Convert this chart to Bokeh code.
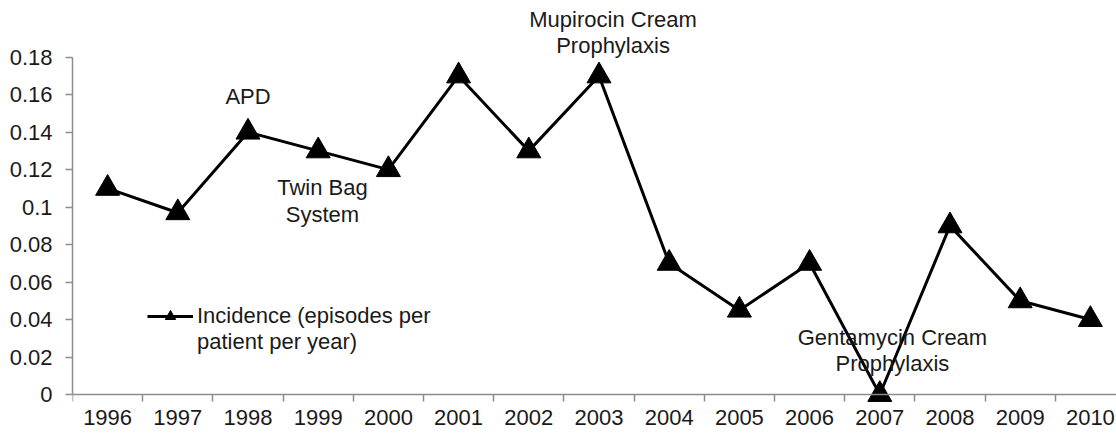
from bokeh.plotting import figure
from bokeh.models import FixedTicker, Range1d, ColumnDataSource, Legend, LegendItem
from bokeh.core.properties import value
from bokeh.embed import file_html
from bokeh.resources import INLINE

# ---- data ----
years = [1996, 1997, 1998, 1999, 2000, 2001, 2002, 2003, 2004, 2005, 2006, 2007, 2008, 2009, 2010]
year_labels = ["1996", "1997", "1998", "1999", "2000", "2001", "2002", "2003", "2004", "2005",
               "2006", "2007", "2008", "2009", "2010"]
incidence = [0.11, 0.097, 0.14, 0.13, 0.12, 0.17, 0.13, 0.17, 0.07, 0.045, 0.07, 0.0, 0.09, 0.05, 0.04]

y_ticks = [0.0, 0.02, 0.04, 0.06, 0.08, 0.1, 0.12, 0.14, 0.16, 0.18]
y_tick_labels = ["0", "0.02", "0.04", "0.06", "0.08", "0.1", "0.12", "0.14", "0.16", "0.18"]

series_label_lines = ["Incidence (episodes per", "patient per year)"]

notes = ["APD", "Twin Bag\nSystem", "Mupirocin Cream\nProphylaxis", "Gentamycin Cream\nProphylaxis"]
note_x = [1998.0, 1999.06, 2003.2, 2007.18]
note_y = [0.159, 0.1033, 0.1932, 0.0235]

FONT = "Liberation Sans"
TEXT_COLOR = "#1a1a1a"
AXIS_COLOR = "#8c8c8c"

p = figure(width=1116, height=434, output_backend="svg", toolbar_location=None,
           x_range=Range1d(1995.5, 2010.372), y_range=Range1d(-0.021346, 0.21026),
           min_border_left=72, min_border_right=0, min_border_top=0, min_border_bottom=0)
p.outline_line_color = None
p.xgrid.grid_line_color = None
p.ygrid.grid_line_color = None
p.background_fill_color = "white"
p.border_fill_color = "white"

# x axis drawn at y = 0
xa = p.xaxis[0]
xa.fixed_location = 0
xa.ticker = FixedTicker(ticks=years,
                        minor_ticks=[y - 0.5 for y in years] + [years[-1] + 0.5])
xa.major_label_overrides = {y: l for y, l in zip(years, year_labels)}
xa.major_tick_line_color = None
xa.major_tick_in = 0
xa.major_tick_out = 7
xa.minor_tick_in = 0
xa.minor_tick_out = 7
xa.minor_tick_line_color = AXIS_COLOR
xa.minor_tick_line_width = 1.5
xa.axis_line_color = AXIS_COLOR
xa.axis_line_width = 1.5
xa.major_label_standoff = 8
xa.major_label_text_font = FONT
xa.major_label_text_font_size = "22px"
xa.major_label_text_color = TEXT_COLOR

ya = p.yaxis[0]
ya.ticker = FixedTicker(ticks=y_ticks, minor_ticks=[])
ya.major_label_overrides = {t: l for t, l in zip(y_ticks, y_tick_labels)}
ya.bounds = (0, 0.18)
ya.major_tick_in = 0
ya.major_tick_out = 7
ya.major_tick_line_color = AXIS_COLOR
ya.major_tick_line_width = 1.5
ya.minor_tick_line_color = None
ya.axis_line_color = AXIS_COLOR
ya.axis_line_width = 1.5
ya.major_label_standoff = 13
ya.major_label_text_font = FONT
ya.major_label_text_font_size = "22px"
ya.major_label_text_color = TEXT_COLOR

src = ColumnDataSource(dict(x=years, y=incidence))
line_r = p.line("x", "y", source=src, line_color="black", line_width=3)
mark_r = p.scatter("x", "y", source=src, marker="triangle", size=24,
                   fill_color="black", line_color="black")

note_src = ColumnDataSource(dict(x=note_x, y=note_y, text=notes))
p.text("x", "y", text="text", source=note_src, text_font=value(FONT),
       text_font_size="22px", text_align="center", text_baseline="middle",
       text_line_height=1.05, text_color=TEXT_COLOR)

# invisible stand-in so the legend's second text line has no glyph
blank_r = p.line(x=[], y=[], line_alpha=0)

legend = Legend(items=[LegendItem(label=value(series_label_lines[0]), renderers=[line_r, mark_r]),
                       LegendItem(label=value(series_label_lines[1]), renderers=[blank_r])],
                location=(75, 79), padding=0, margin=0, spacing=0,
                border_line_color=None, background_fill_alpha=0,
                glyph_width=46, glyph_height=26, label_height=26, label_standoff=4,
                label_text_font=FONT, label_text_font_size="22px",
                label_text_color=TEXT_COLOR)
p.add_layout(legend)

open("out.html", "w").write(file_html(p, INLINE))
